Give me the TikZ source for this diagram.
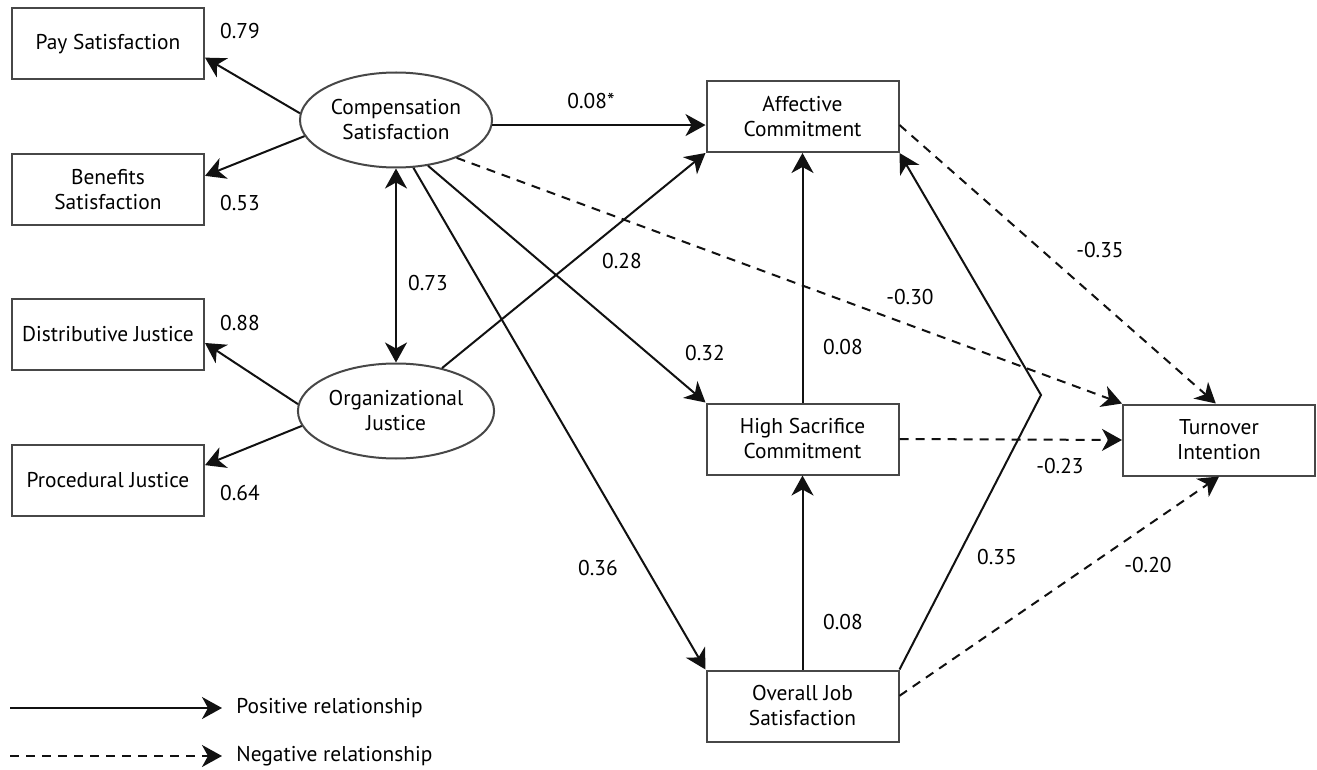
\documentclass[tikz,border=0pt]{standalone}
\usepackage{fontspec}
\setmainfont{PT Sans}
\usepackage{tikz}
\usetikzlibrary{positioning, calc, arrows.meta, shapes.geometric}
\definecolor{semLine}{HTML}{111111}
\definecolor{semBorder}{HTML}{474747}

\begin{document}
\begin{tikzpicture}[x=0.5pt, y=-0.5pt,
    every node/.style={font=\fontsize{10.7}{12.5}\selectfont},
    obs/.style={draw=semBorder, line width=1pt, rectangle, minimum width=96pt, minimum height=35.5pt, align=center, inner sep=2pt},
    lat/.style={draw=semBorder, line width=1pt, ellipse, minimum width=96pt, minimum height=47.5pt, align=center, inner sep=1pt},
    coef/.style={inner sep=1pt},
    arr/.style={-{Stealth[length=10pt, width=11pt, inset=3pt]}, line width=1pt, semLine},
    darr/.style={arr, dash pattern=on 4.5pt off 3.5pt},
    barr/.style={{Stealth[length=10pt, width=11pt, inset=3pt]}-{Stealth[length=10pt, width=11pt, inset=3pt]}, line width=1pt, semLine},
]
\useasboundingbox (0,0) rectangle (1317,770);

% indicators
\node[obs] (pay)  at (108,44)    {Pay Satisfaction};
\node[obs] (ben)  at (108,189.5) {Benefits\\Satisfaction};
\node[obs] (dist) at (108,334.5) {Distributive Justice};
\node[obs] (proc) at (108,480.5) {Procedural Justice};

% latent factors
\node[lat] (cs) at (396,120) {Compensation\\Satisfaction};
\node[lat] (oj) at (396,411) {Organizational\\Justice};

% outcomes
\node[obs] (ac)  at (802.5,116.5) {Affective\\Commitment};
\node[obs] (hsc) at (802.5,439)   {High Sacrifice\\Commitment};
\node[obs] (ojs) at (802.5,706)   {Overall Job\\Satisfaction};
\node[obs] (ti)  at (1219,440)    {Turnover\\Intention};

% loadings
\draw[arr] (cs.176) -- (pay.-8);
\draw[arr] (cs.190) -- (ben.8);
\draw[arr] (oj.176) -- (dist.-5);
\draw[arr] (oj.189) -- (proc.9);
\draw[barr] (cs.south) -- (oj.north);

% paths
\draw[arr] (cs.-3) -- (cs.-3 -| ac.west);
\draw[arr] (oj.43) -- (ac.south west);
\draw[arr] (cs.-55) -- (hsc.north west);
\draw[arr] (cs.-70) -- (ojs.north west);
\draw[darr] (cs.-32) -- (ti.north west);
\draw[arr] (hsc.north) -- (ac.south);
\draw[arr] (ojs.north) -- (hsc.south);
\coordinate (kink) at (1041,395);
\draw[arr] (ojs.north east) -- (kink) -- (ac.south east);
\draw[darr] (ac.-5) -- (ti.95);
\draw[darr] (hsc.east) -- (ti.west);
\draw[darr] (ojs.6) -- (ti.south);

% coefficients
\node[coef] (cPay)  at (240,31)  {0.79};
\node[coef] (cBen)  at (240,203) {0.53};
\node[coef] (cDist) at (240,323) {0.88};
\node[coef] (cProc) at (240,493) {0.64};
\node[coef] (cCor)  at (428,283) {0.73};
\node[coef] (cCsAc) at (591,101) {0.08*};
\node[coef] (cOjAc) at (622,261) {0.28};
\node[coef] (cCsHs) at (705,353) {0.32};
\node[coef] (cCsOj) at (598,568) {0.36};
\node[coef] (cCsTi) at (910,297) {-0.30};
\node[coef] (cAcTi) at (1100,250) {-0.35};
\node[coef] (cHsAc) at (843,347) {0.08};
\node[coef] (cOjHs) at (843,622) {0.08};
\node[coef] (cHsTi) at (1060,466) {-0.23};
\node[coef] (cOjAc2) at (997,557) {0.35};
\node[coef] (cOjTi) at (1148,565) {-0.20};

% legend
\coordinate (posA) at (10,708);
\coordinate (posB) at (222,708);
\coordinate (negA) at (10,756);
\coordinate (negB) at (222,756);
\draw[arr] (posA) -- (posB);
\draw[darr] (negA) -- (negB);
\node[anchor=west, inner sep=0pt] (posTxt) at (236,708) {Positive relationship};
\node[anchor=west, inner sep=0pt] (negTxt) at (236,756) {Negative relationship};
\end{tikzpicture}
\end{document}
